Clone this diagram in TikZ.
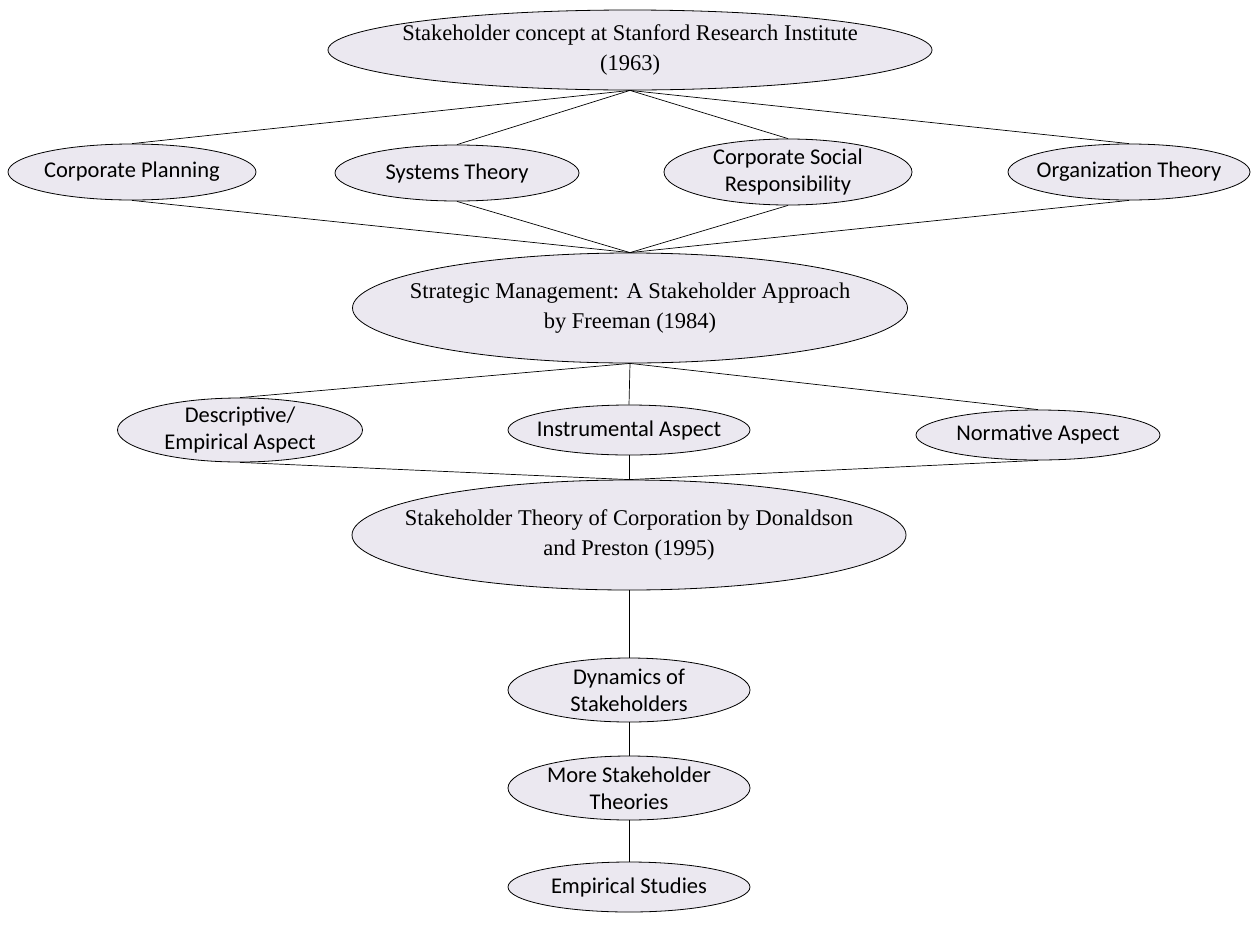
\documentclass[tikz,border=0pt]{standalone}
\usepackage{fontspec}
\setmainfont{Liberation Serif}
\newfontfamily\calibri{Carlito}
\usetikzlibrary{shapes.geometric}
\definecolor{nodefill}{RGB}{235,232,240}
\begin{document}
\begin{tikzpicture}[x=1pt,y=-1pt,
  oval/.style={ellipse, draw=black, line width=0.8pt, fill=nodefill, inner sep=-60pt, align=center},
  serifnode/.style={oval, font=\fontsize{22.5}{30}\selectfont},
  sansnode/.style={oval, font=\calibri\fontsize{22.5}{27}\selectfont},
  link/.style={draw=black, line width=0.7pt}]
\useasboundingbox[fill=white] (0,0) rectangle (1252,948);

% origin and sources
\node[serifnode, minimum width=604pt, minimum height=80pt] (sri) at (630,50)
  {Stakeholder concept at Stanford Research Institute\\(1963)};
\node[sansnode, minimum width=248pt, minimum height=56pt] (cp) at (132,172) {Corporate Planning};
\node[sansnode, minimum width=244pt, minimum height=56pt] (st) at (457,173) {Systems Theory};
\node[sansnode, minimum width=248pt, minimum height=66pt] (csr) at (788,172) {Corporate Social\\Responsibility};
\node[sansnode, minimum width=242pt, minimum height=56pt] (ot) at (1129,172) {Organization Theory};

% Freeman
\node[serifnode, minimum width=555pt, minimum height=110pt] (sm) at (630,308)
  {Strategic Management: A Stakeholder Approach\\by Freeman (1984)};
\node[sansnode, minimum width=245pt, minimum height=64pt] (desc) at (240,430) {Descriptive/\\Empirical Aspect};
\node[sansnode, minimum width=242pt, minimum height=50pt] (inst) at (629,430) {Instrumental Aspect};
\node[sansnode, minimum width=244pt, minimum height=50pt] (norm) at (1038,435) {Normative Aspect};

% Donaldson and Preston and later work
\node[serifnode, minimum width=554pt, minimum height=110pt] (dp) at (629,535)
  {Stakeholder Theory of Corporation by Donaldson\\and Preston (1995)};
\node[sansnode, minimum width=242pt, minimum height=64pt] (dyn) at (629,690) {Dynamics of\\Stakeholders};
\node[sansnode, minimum width=242pt, minimum height=64pt] (more) at (629,788) {More Stakeholder\\Theories};
\node[sansnode, minimum width=242pt, minimum height=50pt] (emp) at (629,887) {Empirical Studies};

% connectors
\foreach \n in {cp,st,csr,ot} {
  \draw[link] (sri.south) -- (\n.north);
  \draw[link] (\n.south) -- (sm.north);
}
\foreach \n in {desc,inst,norm} {
  \draw[link] (sm.south) -- (\n.north);
  \draw[link] (\n.south) -- (dp.north);
}
\draw[link] (dp.south) -- (dyn.north);
\draw[link] (dyn.south) -- (more.north);
\draw[link] (more.south) -- (emp.north);
\end{tikzpicture}
\end{document}
